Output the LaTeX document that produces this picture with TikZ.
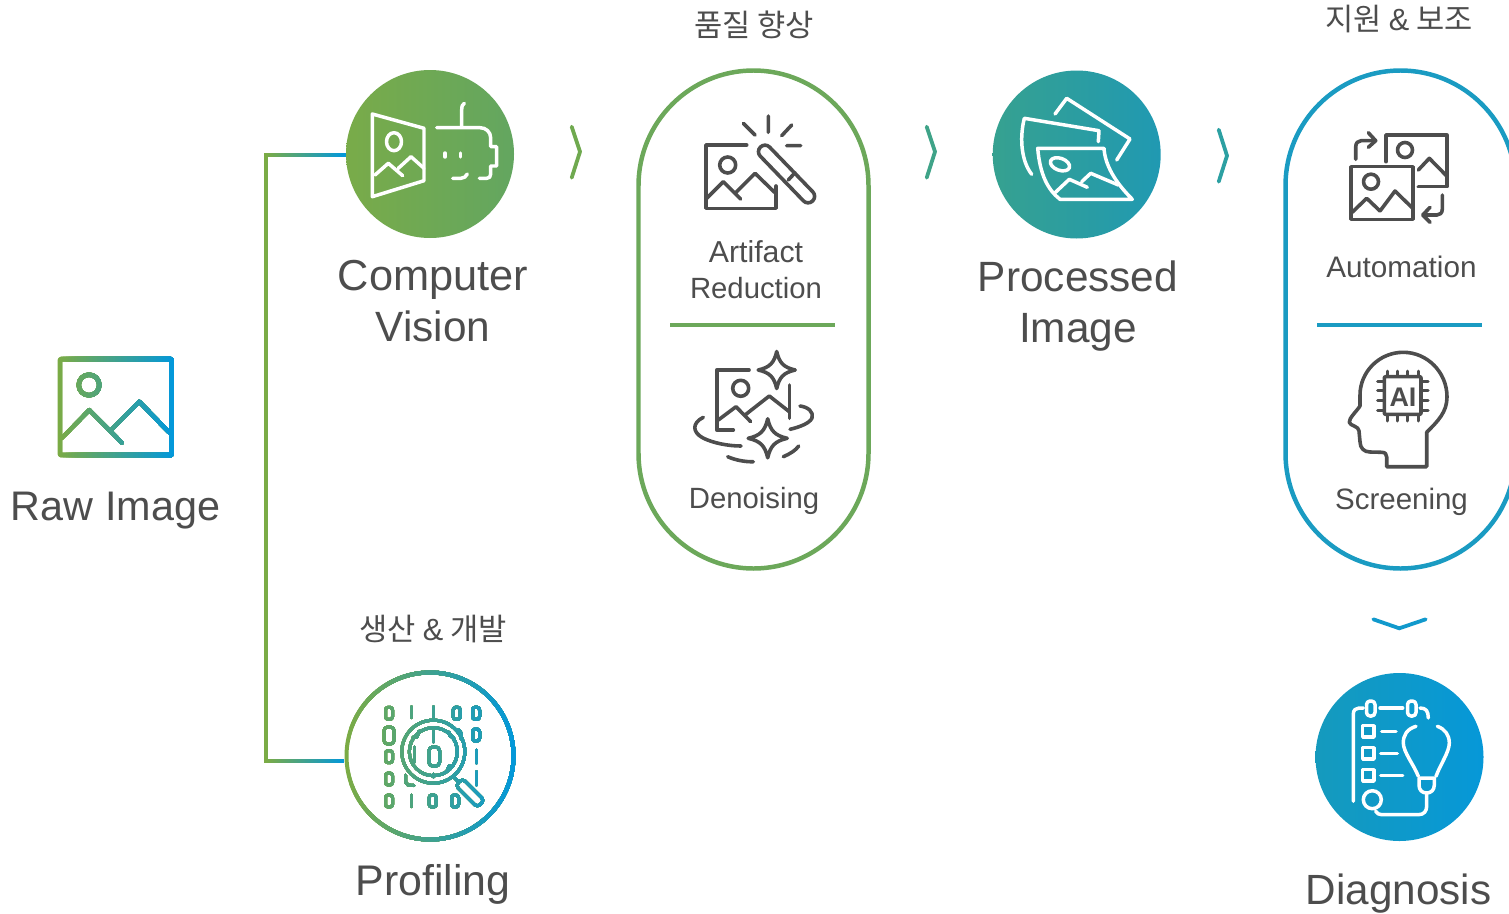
\documentclass[tikz,border=0pt]{standalone}
\usepackage{fontspec}
\setmainfont{Liberation Sans}
\newfontfamily\krfont{Noto Sans CJK KR}
\definecolor{txt}{HTML}{4D4D4D}
\definecolor{gA}{HTML}{7BAB45}
\definecolor{gB}{HTML}{0398DA}
\definecolor{pillg}{HTML}{6CA85A}
\definecolor{pillb}{HTML}{1A9BC2}
\definecolor{cvA}{HTML}{79AB49}
\definecolor{cvB}{HTML}{63A660}
\definecolor{prA}{HTML}{36A190}
\definecolor{prB}{HTML}{2099B2}
\definecolor{diA}{HTML}{159ABD}
\definecolor{diB}{HTML}{0698D8}
\definecolor{chA}{HTML}{6FA94F}
\definecolor{chB}{HTML}{3FA388}
\definecolor{chC}{HTML}{2CA0A2}
\definecolor{chD}{HTML}{1199CC}
\newcommand\gradstroke[5]{%
  \foreach \gi in {0,...,39}{%
    \pgfmathsetmacro\gx{#1+(#2-#1)*\gi/40-(\gi==0?8:0)}%
    \pgfmathsetmacro\gp{100*\gi/39}%
    \begin{scope}
      \clip (\gx,0) rectangle (#2+8,913);
      \colorlet{gc}{#4!\gp!#3}%
      #5
    \end{scope}
  }%
}
\newcommand\sparkle[3]{%
  (#1,#2-#3) .. controls (#1+.14*#3,#2-.38*#3) and (#1+.38*#3,#2-.14*#3) .. (#1+#3,#2)
  .. controls (#1+.38*#3,#2+.14*#3) and (#1+.14*#3,#2+.38*#3) .. (#1,#2+#3)
  .. controls (#1-.14*#3,#2+.38*#3) and (#1-.38*#3,#2+.14*#3) .. (#1-#3,#2)
  .. controls (#1-.38*#3,#2-.14*#3) and (#1-.14*#3,#2-.38*#3) .. cycle
}
\tikzset{
  ic/.style={line width=3.6, line cap=round, line join=round, draw=txt},
  wic/.style={line width=3.5, line cap=round, line join=round, draw=white},
  gic/.style={line width=3, line cap=round, line join=round, draw=gc},
  chev/.style={line width=3.8, line cap=round, line join=miter},
  big/.style={anchor=base, text=txt, font=\fontsize{#1}{42}\selectfont, inner sep=0},
  big/.default=42,
  small/.style={anchor=base, text=txt, font=\fontsize{#1}{30}\selectfont, inner sep=0},
  small/.default=29.2,
  kr/.style={anchor=base, text=txt, font=\fontsize{30.8}{31}\selectfont\krfont, inner sep=0},
  disc/.style={circle, minimum size=168bp, inner sep=0, draw=none},
  pill/.style={rectangle, rounded corners=115bp, minimum width=230bp, minimum height=498bp, line width=4.5, inner sep=0},
}
\begin{document}
\begin{tikzpicture}[x=1bp,y=-1bp]
\useasboundingbox (0,0) rectangle (1509,913);

% discs and pills
\node[disc, left color=cvA, right color=cvB] (cv) at (430,154) {};
\node[disc, left color=prA, right color=prB] (proc) at (1076.7,154.5) {};
\node[disc, left color=diA, right color=diB] (diag) at (1399.5,757) {};
\node[circle, minimum size=171bp, inner sep=0] (prof) at (430,756) {};
\node[pill, draw=pillg] (pa) at (753.5,319.5) {};
\node[pill, draw=pillb] (pb) at (1400.5,319.5) {};
\coordinate (da1) at (670,325); \coordinate (da2) at (835,325);
\coordinate (db1) at (1317,325); \coordinate (db2) at (1482,325);
\draw[line width=4, draw=pillg] (da1) -- (da2);
\draw[line width=4, draw=pillb] (db1) -- (db2);

% connector bracket
\coordinate (profin) at ([yshift=-5bp]prof.west);
\coordinate (cvin) at ([yshift=-1bp]cv.west);
\gradstroke{265}{345}{gA}{gB}{\draw[line width=3.6, draw=gc, line join=miter] (cvin) -- ++(-80,0) |- (profin);}

% profiling ring + icon
\gradstroke{345}{515}{gA}{gB}{%
 \draw[line width=4, draw=gc] (prof) circle (83.5);
 \begin{scope}[gic]
  \foreach \cx/\cy in {389/713.3,389/756.7,389/779,389/801,456.7/713.3,476/713.3,476/735,432.7/801,455/801}
    \draw[rounded corners=2.5] (\cx-3.5,\cy-6) rectangle (\cx+3.5,\cy+6);
  \draw[rounded corners=3.5] (384,727) rectangle (394,744);
  \draw[rounded corners=3.5] (429,747) rectangle (439.5,766);
  \draw (411,706.7) -- (411,717.7) (433.3,706.7) -- (433.3,718) (476,750) -- (476,763) (476,771.7) -- (476,785) (411,795) -- (411,806.7);
  \draw (414,747) -- (414,762) (433.8,731) -- (433.8,742);
  \draw (433.3,774) -- (433.3,777);
  \draw (405.5,775) -- (405.5,782) -- (408,785) -- (414,785.5);
  \draw (456,730) -- (459,730) -- (461,733) -- (461,739);
  \draw (413,737) -- (417,737) -- (419,731);
  \draw (449,732) -- (450,736) -- (454,738);
  \draw (447,771) -- (449,766) -- (453,766);
  \draw (433.3,751.7) circle (31.5) (433.3,751.7) circle (24);
  \draw (453.3,776.7) -- (459,782);
  \draw[shift={(459,782)},rotate=-45,rounded corners=4] (0,-5) rectangle (31,5);
 \end{scope}
}

% raw image
\gradstroke{57}{174}{gA}{gB}{%
 \draw[line width=5, draw=gc, rounded corners=1, line join=round] (60,359.2) rectangle (171.5,455);
 \draw[line width=4.6, draw=gc] (89,385) circle (10.3);
 \draw[line width=4.2, draw=gc, line cap=round, line join=round] (61.7,438.3) -- (89.3,410) -- (121.7,442.7) (111,430) -- (139.3,401.7) -- (169,432.3);
}

% computer vision icon
\begin{scope}[wic]
 \draw (372.3,114) -- (424,128.3) -- (424,180.7) -- (372.3,196.7) -- cycle;
 \draw (394,141.7) ellipse (7.5 and 9);
 \draw (375,175) -- (388.3,163.3) -- (402.7,175.7) (398.3,168.3) -- (411,156.7) -- (424,168.3);
 \draw (461.7,126.7) -- (461.7,110) .. controls (461.7,106) and (462.5,104.5) .. (464.3,103.3);
 \draw (436.7,127.7) -- (480,127.7) .. controls (486,127.7) and (490.7,132) .. (490.7,138) -- (490.7,146.7) -- (496.7,146.7) -- (496.7,166) -- (490.7,166) -- (490.7,174) .. controls (490.7,177) and (489,178.3) .. (486.7,178.3) -- (479.3,178.3);
 \draw (445,153) -- (445,157) (460.7,153) -- (460.7,157);
 \draw (452.7,178.3) -- (461,178.3) .. controls (464,178.3) and (466,176.5) .. (467.3,174);
\end{scope}

% processed icon
\begin{scope}[wic]
 \draw (1055,114) -- (1066.7,98.3) -- (1130,139) -- (1116.7,160);
 \draw (1031.7,174.3) .. controls (1022,162) and (1019,140) .. (1024.3,118.3) -- (1099,130.7) -- (1098.3,141.7);
 \draw (1037.7,148.3) -- (1104,148.3) .. controls (1105,165) and (1115,182) .. (1132.3,199.3) -- (1060,199.3) .. controls (1048,190) and (1040,175) .. cycle;
 \draw[rotate around={-20:(1060,164.3)}] (1060,164.3) ellipse (10 and 6);
 \draw (1055,192.7) -- (1069.3,179.3) -- (1087.3,187.3) (1081.7,181.7) -- (1090.7,173.3) -- (1118.3,185);
\end{scope}

% artifact reduction icon
\begin{scope}[ic]
 \draw (746.7,145) -- (706,145) -- (706,208.3) -- (776,208.3) -- (776,186);
 \draw (727.7,165) circle (8);
 \draw (706.7,198.3) -- (723.3,181.7) -- (740.7,199) (735,193.3) -- (755,173.3) -- (775,192.7);
 \draw[shift={(765,151.7)},rotate=-46,rounded corners=6.4] (-6.5,-6.5) rectangle (68.5,6.5);
 \draw (788.3,180) -- (795,172.7);
 \draw (743.3,123.3) -- (755,135) (768.3,116) -- (768.3,132.3) (791.7,125) -- (781.7,135.7) (786.7,145.7) -- (800.7,145.7);
\end{scope}

% denoising icon
\begin{scope}[ic]
 \draw (749,370) -- (716.7,370) -- (716.7,430) -- (733.3,430);
 \draw (740.7,388.3) circle (8);
 \draw (718.3,420) -- (736,406.7) -- (750.7,421.7) (745,415) -- (769.3,396) -- (789.3,411.7);
 \draw (789.3,385) -- (789.3,418.3);
 \draw \sparkle{776.7}{370}{18.5};
 \draw \sparkle{767.7}{438.3}{19.5};
 \draw (703.3,417.3) .. controls (692,423) and (692,432) .. (703,438) .. controls (713,443) and (728,446) .. (741,446);
 \draw (800,406) .. controls (808,407) and (814,412) .. (812,418) .. controls (810,423) and (800,427) .. (790,429.3);
 \draw (727.7,456.7) .. controls (735,460) and (745,462) .. (753.3,461.7);
 \draw (783.3,456.7) .. controls (790,454) and (796,450) .. (798.7,446);
\end{scope}

% automation icon
\begin{scope}[ic]
 \draw (1386,161.7) -- (1386,135) -- (1446.7,135) -- (1446.7,186.7) -- (1418.3,186.7);
 \draw (1405,150) circle (7.5);
 \draw (1418.3,170) -- (1429.3,158.3) -- (1446.7,176);
 \draw (1350.7,166.7) rectangle (1412.7,219.3);
 \draw (1371,181.7) circle (7.5);
 \draw (1351.7,212.7) -- (1366.7,198.3) -- (1380,211) (1380,211) -- (1395,191) -- (1412.7,208.3);
 \draw (1355.7,159.3) -- (1355.7,147) .. controls (1355.7,143) and (1358,140.7) .. (1361,140.7) -- (1375,140.7);
 \draw (1368.3,132.7) -- (1375.7,140.7) -- (1368.3,147.3);
 \draw (1442.3,195) -- (1442.3,209) .. controls (1442.3,213) and (1440,215) .. (1437,215) -- (1423.3,215);
 \draw (1430,207.3) -- (1422.7,215) -- (1430,222.3);
\end{scope}

% screening icon
\begin{scope}[ic]
 \draw (1386.7,466.7) -- (1426.7,466.7) -- (1426.7,432.3) .. controls (1438,421) and (1447,412) .. (1447,397)
  .. controls (1447,372) and (1427,352.3) .. (1403.3,352.3)
  .. controls (1379,352.3) and (1360,372) .. (1360,395) -- (1360,406)
  .. controls (1356,412) and (1349,418) .. (1349.3,422.3) .. controls (1350,426) and (1359,426) .. (1359,431) -- (1360,441.7)
  .. controls (1360,448) and (1364,452) .. (1370,452) -- (1381.7,452.3) .. controls (1385,452.3) and (1386.7,454) .. (1386.7,457) -- cycle;
 \draw[rounded corners=1] (1384.3,376.7) rectangle (1421,414.3);
 \foreach \p in {1,2,3,4}{
   \pgfmathsetmacro\a{1376.5+(\p-1)*10.2}
   \pgfmathsetmacro\b{381+(\p-1)*9.7}
   \draw[line width=3] (\a+11,371) -- (\a+11,376) (\a+11,415) -- (\a+11,421);
   \draw[line width=3] (1377.5,\b) -- (1384,\b) (1421,\b) -- (1428,\b);
 }
\end{scope}
\node[anchor=base, text=txt, font=\fontsize{27}{27}\selectfont\bfseries, inner sep=0] (ai) at (1403,406) {AI};

% diagnosis icon
\begin{scope}[wic]
 \draw (1353.3,801.3) -- (1353.3,714) .. controls (1353.3,710) and (1356,708) .. (1359,708) -- (1363.3,708);
 \draw[rounded corners=3.5] (1366.5,701) rectangle (1375,716);
 \draw[rounded corners=3.5] (1407.5,701) rectangle (1416,716);
 \draw (1380,708) -- (1402.7,708);
 \draw (1420,708) .. controls (1426,708) and (1428.3,711) .. (1428.3,718);
 \draw (1362.7,725.7) rectangle (1374,737);
 \draw (1362.7,747.7) rectangle (1374,759);
 \draw (1362.7,769.7) rectangle (1374,781);
 \draw (1381.7,731.3) -- (1396,731.3) (1380.7,753.7) -- (1397.3,753.7) (1380.7,775.3) -- (1402.7,775.3);
 \draw (1372.3,799.7) circle (9);
 \draw (1375.7,811.3) .. controls (1377,813.5) and (1379,814.7) .. (1381.7,814.7) -- (1418.3,814.7) .. controls (1424,814.7) and (1426.7,811) .. (1426.7,806) -- (1426.7,793);
 \draw (1419,778) -- (1434.3,778) -- (1434.3,785) .. controls (1434.3,790) and (1431,793) .. (1426.7,793) .. controls (1422,793) and (1419,790) .. (1419,785) -- cycle;
 \draw (1416,726.3) .. controls (1407,729) and (1403.3,735) .. (1403.3,743) .. controls (1403.3,752) and (1414,765) .. (1418.3,776.3);
 \draw (1437.3,726.3) .. controls (1445,729) and (1449.3,735) .. (1449.3,743) .. controls (1449.3,752) and (1440,765) .. (1436,776.3);
\end{scope}

% chevrons
\coordinate (c1a) at (571.7,126.7); \coordinate (c1b) at (580,151.7); \coordinate (c1c) at (571.7,177.7);
\coordinate (c2a) at (926.7,126.7); \coordinate (c2b) at (935,151.7); \coordinate (c2c) at (926.7,177.7);
\coordinate (c3a) at (1218.7,129.7); \coordinate (c3b) at (1227,155.7); \coordinate (c3c) at (1218.7,181.7);
\coordinate (c4a) at (1373.3,619.3); \coordinate (c4b) at (1399.3,628.3); \coordinate (c4c) at (1425.7,619.3);
\draw[chev, draw=chA] (c1a) -- (c1b) -- (c1c);
\draw[chev, draw=chB] (c2a) -- (c2b) -- (c2c);
\draw[chev, draw=chC] (c3a) -- (c3b) -- (c3c);
\draw[chev, draw=chD] (c4a) -- (c4b) -- (c4c);

% labels
\node[big=41.5] (t1) at (115.5,520) {Raw Image};
\node[big=43.5] (t2) at (433,290) {Computer};
\node[big=42.5] (t3) at (433,341) {Vision};
\node[big=42.5] (t4) at (1078,291) {Processed};
\node[big=42.5] (t5) at (1078,342) {Image};
\node[big=43] (t6) at (433,895) {Profiling};
\node[big=42.4] (t7) at (1398.5,904) {Diagnosis};
\node[small=30.4] (t8) at (756,262) {Artifact};
\node[small=29.4] (t9) at (756,298) {Reduction};
\node[small=29.4] (t10) at (754,508) {Denoising};
\node[small=29.8] (t11) at (1401.5,277) {Automation};
\node[small=29.6] (t12) at (1401.5,509) {Screening};
\node[kr] (t13) at (754,36.5) {품질 향상};
\node[kr] (t14) at (1399,30.5) {지원 {\rmfamily\&} 보조};
\node[kr] (t15) at (433,640.5) {생산 {\rmfamily\&} 개발};
\end{tikzpicture}
\end{document}
